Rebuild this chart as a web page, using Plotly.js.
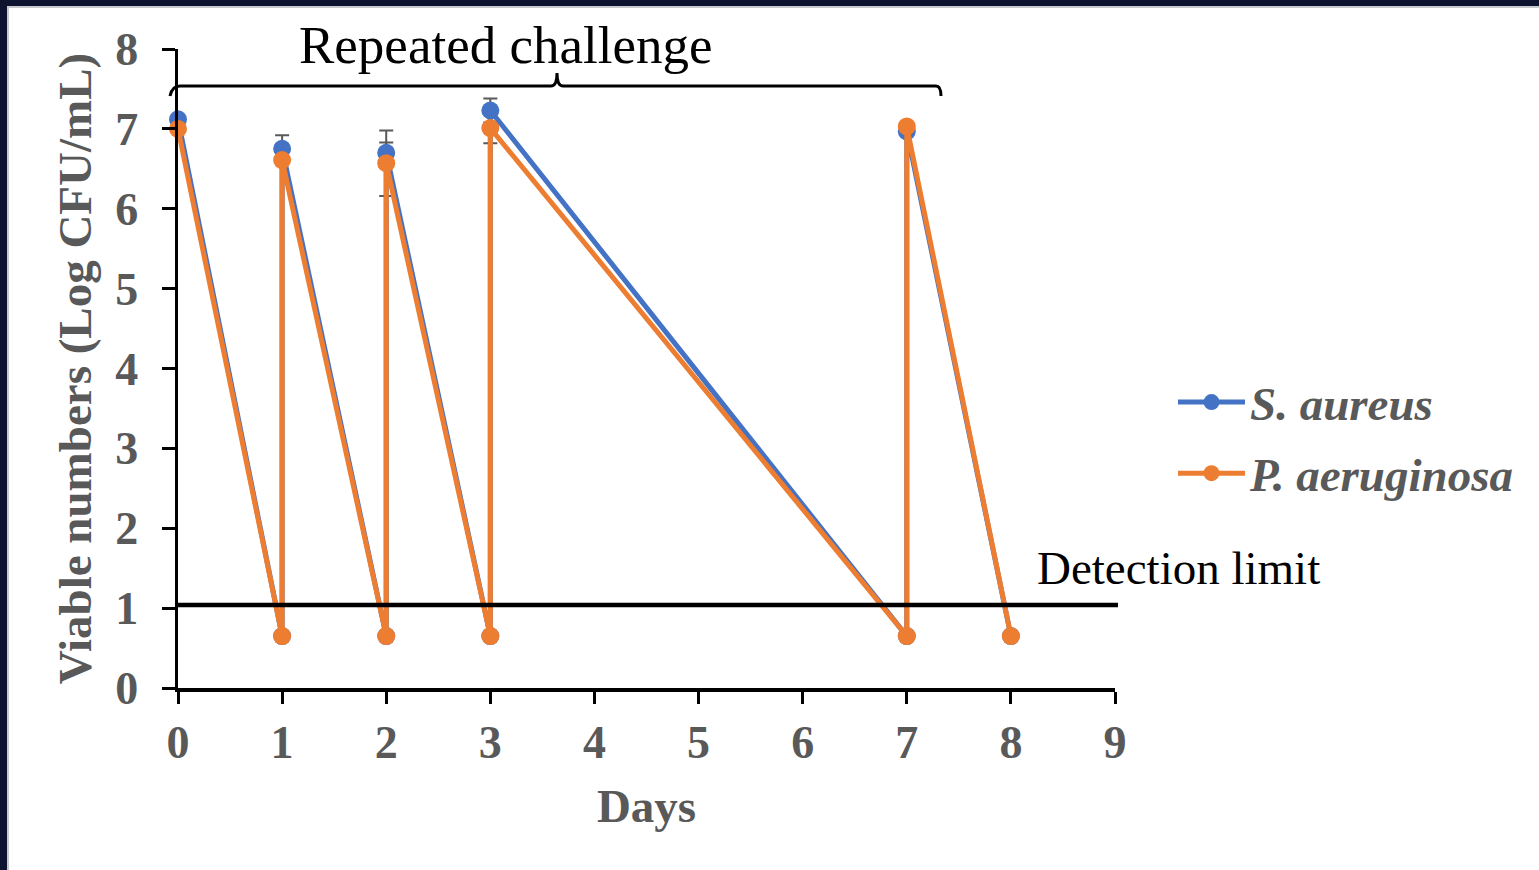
<!DOCTYPE html>
<html>
<head>
<meta charset="utf-8">
<script src="https://cdn.plot.ly/plotly-3.0.1.min.js"></script>
<style>
html,body{margin:0;padding:0;background:#fff;}
#chart{position:absolute;left:0;top:0;width:1539px;height:870px;}
.fr{position:absolute;z-index:10;}
</style>
</head>
<body>
<div id="chart"></div>
<div class="fr" style="left:0;top:0;width:1539px;height:6px;background:#0e132f;"></div>
<div class="fr" style="left:0;top:6px;width:1539px;height:2px;background:#c9cad0;"></div>
<div class="fr" style="left:0;top:0;width:7px;height:870px;background:#0e132f;"></div>
<div class="fr" style="left:7px;top:6px;width:2px;height:864px;background:#c9cad0;"></div>
<script>
// Data
var days = [0, 1, 1, 2, 2, 3, 3, 7, 7, 8];
var sAureus = [7.12, 0.65, 6.75, 0.65, 6.70, 0.65, 7.23, 0.65, 6.97, 0.65];
var pAeruginosa = [7.00, 0.65, 6.61, 0.65, 6.57, 0.65, 7.01, 0.65, 7.03, 0.65];
var sAureusErr = [null, null, 0.17, null, 0.13, null, 0.15, null, null, null];
var pAeruginosaErr = [null, null, null, null, 0.41, null, 0.19, null, null, null];
var detectionLimit = 1.04;
var xTicks = [0, 1, 2, 3, 4, 5, 6, 7, 8, 9];
var yTicks = [0, 1, 2, 3, 4, 5, 6, 7, 8];
var seriesNames = ['S. aureus', 'P. aeruginosa'];

var blue = '#4472C4', orange = '#ED7D31', gray = '#595959';
var serif = 'Liberation Serif, Times New Roman, serif';

function errTrace(y, err) {
  return {
    x: days, y: y, type: 'scatter', mode: 'markers',
    marker: {size: 1, color: 'rgba(0,0,0,0)'},
    error_y: {type: 'data', array: err, symmetric: true, visible: true,
              color: gray, thickness: 2, width: 7},
    showlegend: false, hoverinfo: 'skip', cliponaxis: false
  };
}

var traces = [
  errTrace(sAureus, sAureusErr),
  errTrace(pAeruginosa, pAeruginosaErr),
  {
    x: days, y: sAureus, type: 'scatter', mode: 'lines+markers',
    name: '<b><i>' + seriesNames[0] + '</i></b>',
    line: {color: blue, width: 5},
    marker: {color: blue, size: 18},
    cliponaxis: false, legendgroup: 'a'
  },
  {
    x: days, y: pAeruginosa, type: 'scatter', mode: 'lines+markers',
    name: '<b><i>' + seriesNames[1] + '</i></b>',
    line: {color: orange, width: 5},
    marker: {color: orange, size: 18},
    cliponaxis: false, legendgroup: 'b'
  }
];

// bracket geometry (paper coordinates): plot area px 178..1115 x, 49..688 y
function px(x) { return (x - 178) / 937; }
function py(y) { return (688 - y) / 639; }

var bracketPath =
  'M' + px(170) + ',' + py(96) +
  ' Q' + px(172) + ',' + py(86) + ' ' + px(180) + ',' + py(86) +
  ' L' + px(551) + ',' + py(86) +
  ' Q' + px(557) + ',' + py(86) + ' ' + px(557) + ',' + py(73) +
  ' Q' + px(557) + ',' + py(86) + ' ' + px(563) + ',' + py(86) +
  ' L' + px(936) + ',' + py(86) +
  ' Q' + px(941) + ',' + py(86) + ' ' + px(941) + ',' + py(96);

var layout = {
  width: 1539, height: 870,
  paper_bgcolor: '#ffffff', plot_bgcolor: '#ffffff',
  margin: {l: 178, r: 424, t: 49, b: 182, pad: 0},
  showlegend: true,
  xaxis: {
    range: [0, 9], tickvals: xTicks, ticktext: xTicks.map(String),
    showgrid: false, zeroline: false,
    showline: true, linecolor: '#000', linewidth: 3.5,
    ticks: 'outside', ticklen: 12, tickwidth: 3, tickcolor: '#000',
    ticklabelstandoff: -1,
    tickfont: {family: serif, size: 46, color: gray, weight: 'bold'},
    title: {text: '<b>Days</b>', font: {family: serif, size: 47, color: gray}, standoff: 23},
    fixedrange: true
  },
  yaxis: {
    range: [0, 8], tickvals: yTicks, ticktext: yTicks.map(String),
    showgrid: false, zeroline: false,
    showline: true, linecolor: '#000', linewidth: 3.5,
    ticks: 'outside', ticklen: 13, tickwidth: 3, tickcolor: '#000',
    ticklabelstandoff: 14,
    tickfont: {family: serif, size: 46, color: gray, weight: 'bold'},
    title: {text: '<b>Viable numbers (Log CFU/mL)</b>', font: {family: serif, size: 47, color: gray}, standoff: 10},
    fixedrange: true
  },
  legend: {
    x: px(1173), y: py(438), xanchor: 'left', yanchor: 'middle',
    font: {family: serif, size: 47, color: gray},
    itemwidth: 67, traceorder: 'grouped', tracegroupgap: 7,
    bgcolor: 'rgba(0,0,0,0)', borderwidth: 0
  },
  shapes: [
    {type: 'line', xref: 'paper', yref: 'y', x0: 0, x1: px(1118),
     y0: detectionLimit, y1: detectionLimit, line: {color: '#000', width: 4.5}},
    {type: 'path', xref: 'paper', yref: 'paper', path: bracketPath,
     line: {color: '#000', width: 3}}
  ],
  annotations: [
    {xref: 'paper', yref: 'paper', x: px(505), y: py(45), text: 'Repeated challenge',
     showarrow: false, xanchor: 'center', yanchor: 'middle',
     font: {family: serif, size: 53, color: '#000'}},
    {xref: 'paper', yref: 'paper', x: px(1035), y: py(568), text: 'Detection limit',
     showarrow: false, xanchor: 'left', yanchor: 'middle',
     font: {family: serif, size: 47, color: '#000'}}
  ]
};

Plotly.newPlot('chart', traces, layout, {displayModeBar: false, staticPlot: true});
</script>
</body>
</html>
